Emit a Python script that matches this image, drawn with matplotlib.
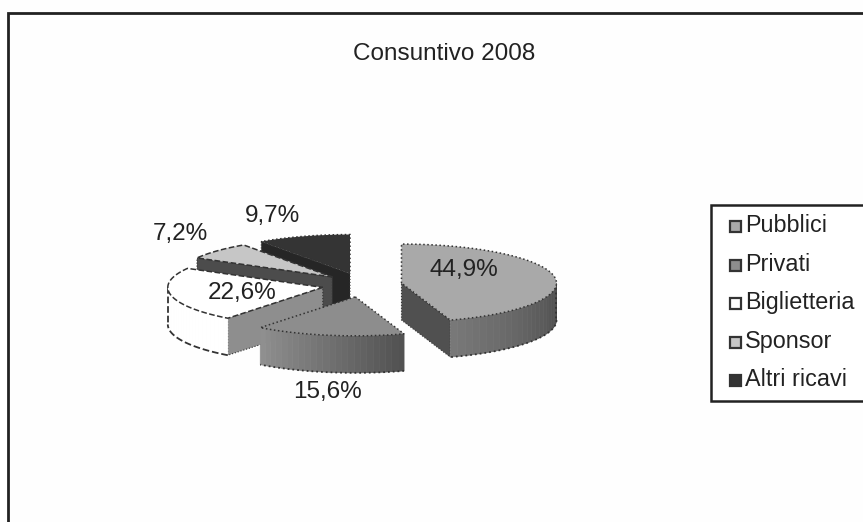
import numpy as np
import matplotlib
matplotlib.use('Agg')
import matplotlib.pyplot as plt
from matplotlib.patches import Polygon, Rectangle

plt.rcParams['font.family'] = ['Liberation Sans', 'DejaVu Sans']

title = 'Consuntivo 2008'
categories = ['Pubblici', 'Privati', 'Biglietteria', 'Sponsor', 'Altri ricavi']
shares = [44.9, 15.6, 22.6, 7.2, 9.7]
pct_labels = ['44,9%', '15,6%', '22,6%', '7,2%', '9,7%']

# look of each slice
top_colors = ['#a9a9a9', '#8d8d8d', '#ffffff', '#c6c6c6', '#343434']
wall_colors = ['#505050', '#8a8a8a', '#8e8e8e', '#4c4c4c', '#262626']
rim_from = [0.30, 0.32, 1.0, 0.5, 0.2]
rim_to = [0.47, 0.56, 1.0, 0.5, 0.2]
edge_styles = ['dotted', 'dotted', 'dashed', 'dashed', 'dotted']
label_pos = [(464, 270), (327, 392), (242, 293), (180, 234), (272, 216)]

# pie geometry in pixels
cx, cy = 362, 285
rx, ry = 155, 39
explode = 40
depth = 37


def rim(apex, a0, a1):
    t = np.radians(np.linspace(a0, a1, max(int(abs(a1 - a0)), 2) + 1))
    return np.column_stack([apex[0] + rx*np.sin(t), apex[1] - ry*np.cos(t)])


fig = plt.figure(figsize=(8.63, 5.22), dpi=100, facecolor='#fefefe')
ax = fig.add_axes([0, 0, 1, 1])
ax.set_xlim(0, 863)
ax.set_ylim(522, 0)
ax.axis('off')

# chart frame
ax.add_patch(Rectangle((8, 13), 880, 530, fc='#fefefe', ec='#222222', lw=2, zorder=0))

edges = np.cumsum([0] + shares) / np.sum(shares) * 360
draw_order = [4, 3, 2, 0, 1]
for z, i in enumerate(draw_order):
    a0, a1 = edges[i], edges[i + 1]
    mid = np.radians((a0 + a1) / 2)
    apex = (cx + explode*np.sin(mid), cy - explode*0.3*np.cos(mid))
    zo = 2 + z
    ec = '#333333'
    # walls along the cuts, only those facing the viewer
    visible = [a for a, show in ((a0, a0 > 180), (a1, a1 < 180)) if show]
    for a in visible:
        p = rim(apex, a, a + 1)[0]
        wall = [apex, p, (p[0], p[1] + depth), (apex[0], apex[1] + depth)]
        ax.add_patch(Polygon(wall, fc=wall_colors[i], ec=ec, lw=0.8, ls=':', zorder=zo))
    # outer wall, only the part facing the viewer
    lo, hi = max(a0, 90), min(a1, 270)
    if hi > lo:
        steps = np.linspace(lo, hi, 25)
        shade = np.linspace(rim_from[i], rim_to[i], 24)
        for s0, s1, g in zip(steps[:-1], steps[1:], shade):
            seg = rim(apex, s0, s1)
            low = seg[::-1] + [0, depth]
            c = str(g)
            ax.add_patch(Polygon(np.vstack([seg, low]), fc=c, ec=c, lw=0.5, zorder=zo))
        arc = rim(apex, lo, hi)
        ax.plot(arc[:, 0], arc[:, 1] + depth, color=ec, lw=1.3, ls=edge_styles[i], zorder=zo)
        # silhouette where the wall turns away
        for a in (90, 270):
            if a0 < a < a1:
                p = rim(apex, a, a + 1)[0]
                ax.plot([p[0], p[0]], [p[1], p[1] + depth], color=ec, lw=1.3, ls=edge_styles[i], zorder=zo)
    # top face
    top = np.vstack([[apex], rim(apex, a0, a1)])
    ax.add_patch(Polygon(top, fc=top_colors[i], ec=ec, lw=1.1, ls=edge_styles[i], zorder=zo + 0.5))

for lab, pos in zip(pct_labels, label_pos):
    ax.text(pos[0], pos[1], lab, fontsize=17.5, color='#222222', ha='center', va='center', zorder=20)

ax.text(444, 54, title, fontsize=17.5, color='#222222', ha='center', va='center')

# legend
ax.add_patch(Rectangle((711, 205), 170, 196, fc='white', ec='#222222', lw=1.8, zorder=10))
for i, name in enumerate(categories):
    y = 226 + i * 38.5
    ax.add_patch(Rectangle((730, y - 5), 11, 11, fc=top_colors[i], ec='#333333', lw=1.6, zorder=11))
    ax.text(745, y, name, fontsize=16.8, color='#222222', va='center', zorder=11)

fig.savefig('out.png', dpi=100, facecolor=fig.get_facecolor())
